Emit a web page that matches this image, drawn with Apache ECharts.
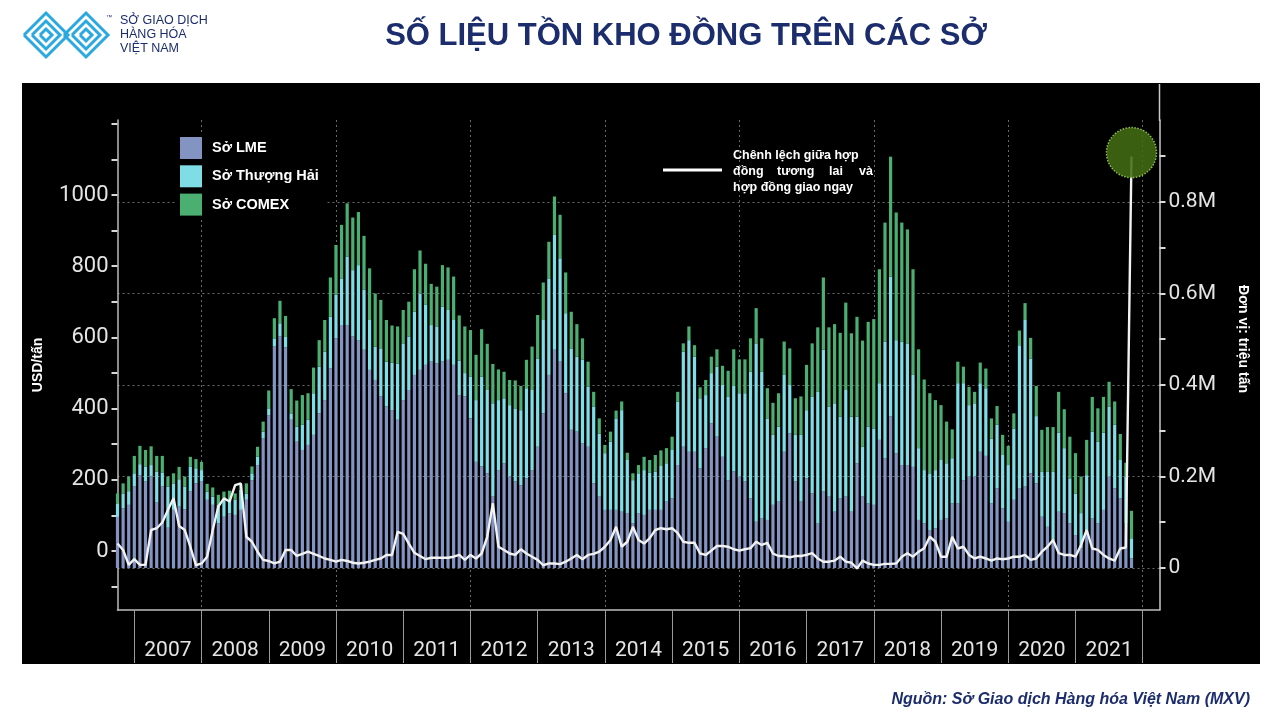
<!DOCTYPE html>
<html><head><meta charset="utf-8">
<script src="https://cdn.jsdelivr.net/npm/echarts@6/dist/echarts.min.js"></script>
<style>html,body{margin:0;padding:0;background:#fff}#c{width:1280px;height:720px}</style>
</head><body><div id="c"></div>
<script>
// ---------- data ----------
const years = ['2007','2008','2009','2010','2011','2012','2013','2014','2015','2016','2017','2018','2019','2020','2021'];
const firstMonth = {year: 2006, month: 10};
const trailingEmptyMonths = 5;
// stocks, thousand tonnes (one bar per month)
const lme = [112,130,138,178,203,189,200,143,178,88,
127,134,128,167,185,189,149,138,98,112,
119,116,127,149,192,225,283,334,484,506,
482,324,276,258,269,291,338,367,436,502,
531,531,506,498,477,433,411,375,353,345,
324,367,389,422,433,444,451,447,451,455,
444,378,375,327,232,222,207,156,214,229,
200,189,181,196,214,265,338,422,477,451,
382,302,298,273,265,185,156,127,127,127,
123,120,98,120,116,127,127,127,145,152,
225,265,254,254,218,262,316,287,243,192,
211,200,189,152,101,109,105,138,145,254,
294,189,145,196,163,97,167,156,123,152,
156,123,229,156,141,138,280,240,331,251,
225,225,221,105,98,83,87,105,109,141,
141,192,200,200,254,245,141,174,130,101,
149,174,178,207,185,112,90,61,123,120,
98,72,43,79,108,98,127,200,174,152,
98,21];
const shfe = [29,32,30,29,24,33,25,68,31,90,
58,60,50,55,33,25,18,18,40,37,
30,33,44,14,15,18,15,15,18,29,
23,14,33,55,55,91,102,106,113,95,
102,150,145,164,131,109,73,105,98,104,
123,124,117,138,167,131,80,81,120,109,
98,75,51,91,135,196,182,204,153,142,
156,160,164,197,175,193,204,211,251,226,
175,178,164,182,131,168,138,124,149,200,
222,116,94,87,98,81,84,96,84,106,
139,208,244,208,153,116,110,153,157,183,
187,182,193,277,390,320,222,153,164,168,
106,102,146,149,212,288,310,197,237,179,
233,208,102,109,168,167,124,255,306,247,
270,266,201,157,116,124,127,131,120,99,
263,212,156,160,150,148,142,139,117,124,
156,313,364,251,147,98,120,149,173,142,
98,91,77,124,190,178,169,153,139,84,
102,44];
const comex = [22,23,32,38,40,36,41,34,36,22,
22,27,22,21,20,18,17,20,22,18,
20,14,13,22,15,22,22,39,44,49,
46,53,57,65,58,56,58,69,86,109,
117,116,115,116,118,113,116,106,91,81,
81,73,76,93,94,90,90,87,91,93,
95,99,102,102,99,104,101,86,67,58,
55,61,53,62,95,95,82,80,84,95,
89,80,71,47,55,32,33,18,22,17,
19,16,15,18,29,28,36,34,33,29,
21,18,30,25,24,33,36,38,42,56,
80,74,74,73,77,73,66,70,73,73,
80,80,84,99,116,141,158,173,173,183,
191,182,218,232,229,239,249,260,262,279,
260,249,231,216,198,175,153,120,91,63,
47,36,40,25,45,43,44,41,44,42,
33,32,37,45,66,92,98,98,89,85,
91,88,80,77,76,73,78,54,51,57,
30,60];
// futures - spot spread, USD/t
const spread = [21,3,-39,-23,-39,-39,59,64,80,115,
148,70,59,12,-40,-35,-16,59,125,148,
139,185,190,40,26,-2,-25,-28,-35,-30,
3,3,-14,-8,-2,-8,-14,-21,-25,-30,
-25,-28,-33,-35,-33,-30,-25,-21,-11,-11,
54,48,21,-5,-14,-23,-19,-19,-19,-19,
-16,-11,-25,-11,-21,-7,40,134,12,3,
-7,-11,5,-7,-16,-25,-40,-35,-35,-37,
-30,-21,-11,-23,-11,-8,-2,12,31,68,
12,26,68,31,21,36,59,64,61,64,
50,26,23,23,-7,-11,1,14,14,12,
5,1,5,8,26,17,23,-7,-14,-14,
-18,-14,-14,-11,-6,-21,-30,-30,-27,-16,
-30,-33,-49,-27,-35,-39,-39,-36,-36,-35,
-16,-6,-16,-2,8,40,26,-16,-16,40,
7,12,-11,-21,-16,-21,-27,-21,-23,-21,
-16,-16,-11,-25,-21,-2,12,31,-6,-11,
-11,-16,17,59,7,3,-11,-21,-27,7,
10,1108];
const leftTicks = [-100,0,100,200,300,400,500,600,700,800,900,1000,1100,1200];
const leftLabels = [0,200,400,600,800,1000];
const rightTicks = [0,100,200,300,400,500,600,700,800,900];
const rightLabels = [0,200,400,600,800];
const gridValues = [0,200,400,600,800];

// ---------- derived ----------
const months = Array.from({length: lme.length + trailingEmptyMonths}, (_, i) => {
  const m = firstMonth.month - 1 + i;
  return (firstMonth.year + Math.floor(m / 12)) + '-' + String(m % 12 + 1).padStart(2, '0');
});
const isJan = v => v.endsWith('-01');

const navy = '#1c2d6e';
const tickFont = 'Roboto, "Liberation Sans", sans-serif';
const boldFont = '"Liberation Sans", Arial, sans-serif';

const chart = echarts.init(document.getElementById('c'), null, {width: 1280, height: 720});
chart.setOption({
  backgroundColor: '#ffffff',
  animation: false,
  grid: {left: 117.5, right: 120.5, top: 120, bottom: 110, containLabel: false},
  legend: {
    data: ['Sở LME', 'Sở Thượng Hải', 'Sở COMEX'],
    orient: 'vertical', left: 176, top: 133,
    itemWidth: 22, itemHeight: 22, itemGap: 6.3,
    icon: 'rect', backgroundColor: '#000', padding: [4, 8, 4, 4],
    textStyle: {color: '#ffffff', fontWeight: 'bold', fontSize: 14.5, fontFamily: boldFont, padding: [3, 0, 0, 5]}
  },
  xAxis: [{
    type: 'category', data: months, boundaryGap: false, position: 'bottom',
    axisLine: {show: true, onZero: false, lineStyle: {color: '#bdbdbd', width: 1.5}},
    axisTick: {show: true, length: 53, interval: (i, v) => isJan(v), lineStyle: {color: '#9a9a9a', width: 1}},
    axisLabel: {show: true, margin: 30, color: '#e4e4e4', fontSize: 21, fontFamily: tickFont,
      interval: (i, v) => v.endsWith('-07') && years.includes(v.slice(0, 4)),
      formatter: v => v.slice(0, 4)},
    splitLine: {show: true, interval: (i, v) => isJan(v) && Number(v.slice(0, 4)) % 2 === 0,
      lineStyle: {color: '#6a6a6a', width: 1, type: [2, 3]}}
  }],
  yAxis: [{
    type: 'value', min: -165.7, max: 1210.7, position: 'left',
    axisLine: {show: true, onZero: false, lineStyle: {color: '#bdbdbd', width: 1.5}},
    axisTick: {show: true, length: 6, customValues: leftTicks, lineStyle: {color: '#d8d8d8', width: 2}},
    axisLabel: {customValues: leftLabels, margin: 9, color: '#e4e4e4', fontSize: 22, fontFamily: tickFont,
      formatter: v => String(v)},
    splitLine: {show: false}
  }, {
    type: 'value', min: -91.8, max: 979.2, position: 'right',
    axisLine: {show: true, onZero: false, lineStyle: {color: '#c8c8c8', width: 1.5}},
    axisTick: {show: true, length: 6, customValues: rightTicks, lineStyle: {color: '#d8d8d8', width: 2}},
    axisLabel: {customValues: rightLabels, margin: 9, color: '#e4e4e4', fontSize: 21, fontFamily: tickFont,
      formatter: v => v === 0 ? '0' : (v / 1000) + 'M'},
    splitLine: {show: false}
  }, {
    type: 'value', min: -91.8, max: 979.2, position: 'right',
    axisLine: {show: false, onZero: false}, axisLabel: {show: false},
    axisTick: {show: false, customValues: gridValues},
    splitLine: {show: true, lineStyle: {color: '#6a6a6a', width: 1, type: [2, 3]}}
  }],
  series: [
    {name: 'Sở LME', type: 'bar', stack: 'kho', yAxisIndex: 1, barWidth: 3.2,
      itemStyle: {color: '#8494c2'}, data: lme},
    {name: 'Sở Thượng Hải', type: 'bar', stack: 'kho', yAxisIndex: 1, barWidth: 3.2,
      itemStyle: {color: '#7fdde6'}, data: shfe},
    {name: 'Sở COMEX', type: 'bar', stack: 'kho', yAxisIndex: 1, barWidth: 3.2,
      itemStyle: {color: '#4caf72'}, data: comex},
    {name: 'Chênh lệch giữa hợp đồng tương lai và hợp đồng giao ngay', type: 'line', yAxisIndex: 0,
      data: spread, symbol: 'none', z: 4,
      lineStyle: {color: '#f2f2f2', width: 2.4},
      markPoint: {
        symbol: 'circle', symbolSize: 50, symbolOffset: [0, -4],
        label: {show: false},
        itemStyle: {color: 'rgba(66,108,18,0.88)', borderColor: '#8fbb52', borderWidth: 1.5, borderType: 'dotted'},
        data: [{type: 'max', name: 'max'}]
      }}
  ],
  graphic: [
    {type: 'rect', z: -100, shape: {x: 22, y: 83, width: 1238, height: 581}, style: {fill: '#000000'}},
    {type: 'line', z: 1, shape: {x1: 1159.5, y1: 84, x2: 1159.5, y2: 121}, style: {stroke: '#c8c8c8', lineWidth: 1.5}},
    // title
    {type: 'text', x: 686, y: 36, style: {text: 'SỐ LIỆU TỒN KHO ĐỒNG TRÊN CÁC SỞ', fill: navy,
      font: 'bold 31px "Liberation Sans", Arial, sans-serif', align: 'center', verticalAlign: 'middle'}},
    // logo
    {type: 'group', children: [
      {type: 'polyline', shape: {points: [[24,35],[46,13],[68,35],[46,57],[24,35]]}, style: {stroke: '#29a9e0', lineWidth: 3, fill: null}},
      {type: 'polyline', shape: {points: [[32,35],[46,21],[60,35],[46,49],[32,35]]}, style: {stroke: '#29a9e0', lineWidth: 3, fill: null}},
      {type: 'polyline', shape: {points: [[40,35],[46,29],[52,35],[46,41],[40,35]]}, style: {stroke: '#29a9e0', lineWidth: 3, fill: null}},
      {type: 'polyline', shape: {points: [[64,35],[86,13],[108,35],[86,57],[64,35]]}, style: {stroke: '#29a9e0', lineWidth: 3, fill: null}},
      {type: 'polyline', shape: {points: [[72,35],[86,21],[100,35],[86,49],[72,35]]}, style: {stroke: '#29a9e0', lineWidth: 3, fill: null}},
      {type: 'polyline', shape: {points: [[80,35],[86,29],[92,35],[86,41],[80,35]]}, style: {stroke: '#29a9e0', lineWidth: 3, fill: null}}
    ]},
    {type: 'text', x: 106, y: 17, style: {text: '™', fill: navy, font: '6px "Liberation Sans", Arial', align: 'left', verticalAlign: 'middle'}},
    {type: 'text', x: 120, y: 21, style: {text: 'SỞ GIAO DỊCH', fill: navy, font: '12.5px "Liberation Sans", Arial', align: 'left', verticalAlign: 'middle'}},
    {type: 'text', x: 120, y: 35, style: {text: 'HÀNG HÓA', fill: navy, font: '12.5px "Liberation Sans", Arial', align: 'left', verticalAlign: 'middle'}},
    {type: 'text', x: 120, y: 49, style: {text: 'VIỆT NAM', fill: navy, font: '12.5px "Liberation Sans", Arial', align: 'left', verticalAlign: 'middle'}},
    // axis names
    {type: 'text', x: 38, y: 365, rotation: Math.PI / 2, style: {text: 'USD/tấn', fill: '#fff',
      font: 'bold 14px "Liberation Sans", Arial', align: 'center', verticalAlign: 'middle'}},
    {type: 'text', x: 1243, y: 339, rotation: -Math.PI / 2, style: {text: 'Đơn vị: triệu tấn', fill: '#fff',
      font: 'bold 14px "Liberation Sans", Arial', align: 'center', verticalAlign: 'middle'}},
    // line legend
    {type: 'line', shape: {x1: 663, y1: 170, x2: 722, y2: 170}, style: {stroke: '#ffffff', lineWidth: 3}},
    {type: 'text', x: 733, y: 156, style: {text: 'Chênh lệch giữa hợp', fill: '#fff', font: 'bold 12.5px "Liberation Sans", Arial', align: 'left', verticalAlign: 'middle'}},
    {type: 'text', x: 733, y: 172, style: {text: 'đồng', fill: '#fff', font: 'bold 12.5px "Liberation Sans", Arial', align: 'left', verticalAlign: 'middle'}},
    {type: 'text', x: 777, y: 172, style: {text: 'tương', fill: '#fff', font: 'bold 12.5px "Liberation Sans", Arial', align: 'left', verticalAlign: 'middle'}},
    {type: 'text', x: 829, y: 172, style: {text: 'lai', fill: '#fff', font: 'bold 12.5px "Liberation Sans", Arial', align: 'left', verticalAlign: 'middle'}},
    {type: 'text', x: 873, y: 172, style: {text: 'và', fill: '#fff', font: 'bold 12.5px "Liberation Sans", Arial', align: 'right', verticalAlign: 'middle'}},
    {type: 'text', x: 733, y: 188, style: {text: 'hợp đồng giao ngay', fill: '#fff', font: 'bold 12.5px "Liberation Sans", Arial', align: 'left', verticalAlign: 'middle'}},
    // source
    {type: 'text', x: 1250, y: 700, style: {text: 'Nguồn: Sở Giao dịch Hàng hóa Việt Nam (MXV)', fill: navy,
      font: 'italic bold 16px "Liberation Sans", Arial', align: 'right', verticalAlign: 'middle'}}
  ]
});
</script></body></html>
